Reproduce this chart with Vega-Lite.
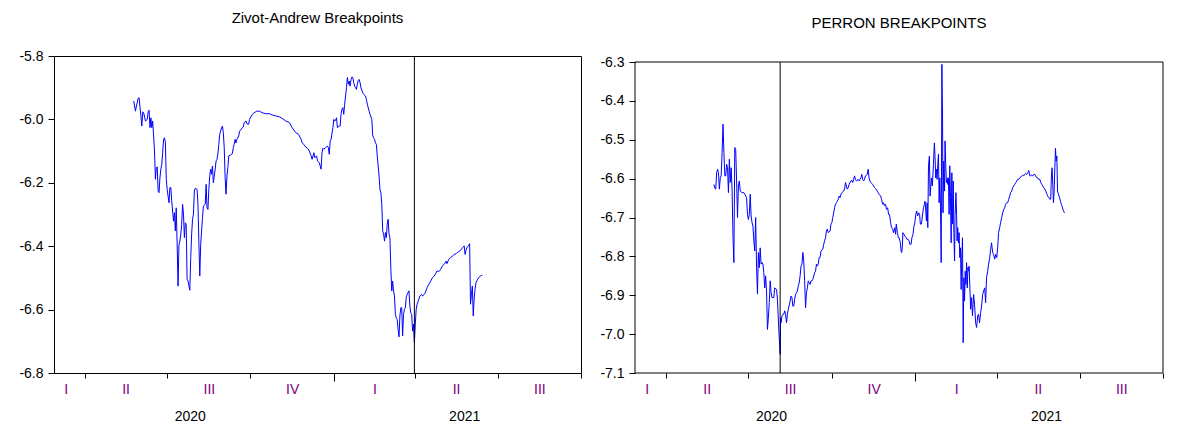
{
 "$schema": "https://vega.github.io/schema/vega-lite/v6.json",
 "background": "white",
 "padding": {"left": 18, "top": 10, "right": 5, "bottom": 5},
 "spacing": 17,
 "config": {
  "view": {"stroke": "black", "strokeWidth": 1},
  "font": "Liberation Sans",
  "title": {"font": "Liberation Sans", "fontSize": 15, "fontWeight": "normal", "color": "black", "anchor": "middle", "frame": "group"},
  "axis": {"labelFont": "Liberation Sans", "labelFontSize": 14, "labelColor": "black", "tickColor": "black", "domain": false, "grid": false, "title": null}
 },
 "hconcat": [
  {
   "width": 527, "height": 317,
   "title": {"text": "Zivot-Andrew Breakpoints", "offset": 23},
   "resolve": {"axis": {"x": "independent"}},
   "layer": [
    {
     "data": {"values": [
{"date":"2020-05-25","value":-5.942},{"date":"2020-05-27","value":-5.974},{"date":"2020-05-28","value":-5.958},{"date":"2020-05-30","value":-5.933},{"date":"2020-05-31","value":-5.932},{"date":"2020-06-01","value":-5.963},{"date":"2020-06-02","value":-5.989},{"date":"2020-06-03","value":-6.021},{"date":"2020-06-04","value":-5.976},{"date":"2020-06-05","value":-5.979},{"date":"2020-06-07","value":-6.005},{"date":"2020-06-09","value":-6.0},{"date":"2020-06-10","value":-5.976},{"date":"2020-06-11","value":-5.971},{"date":"2020-06-12","value":-6.026},{"date":"2020-06-13","value":-5.995},{"date":"2020-06-14","value":-6.026},{"date":"2020-06-15","value":-6.005},{"date":"2020-06-16","value":-6.052},{"date":"2020-06-17","value":-6.1},{"date":"2020-06-18","value":-6.189},{"date":"2020-06-19","value":-6.152},{"date":"2020-06-20","value":-6.15},{"date":"2020-06-21","value":-6.226},{"date":"2020-06-22","value":-6.231},{"date":"2020-06-23","value":-6.184},{"date":"2020-06-24","value":-6.157},{"date":"2020-06-25","value":-6.142},{"date":"2020-06-26","value":-6.105},{"date":"2020-06-27","value":-6.063},{"date":"2020-06-28","value":-6.058},{"date":"2020-06-29","value":-6.074},{"date":"2020-06-30","value":-6.189},{"date":"2020-07-01","value":-6.221},{"date":"2020-07-03","value":-6.263},{"date":"2020-07-04","value":-6.215},{"date":"2020-07-05","value":-6.215},{"date":"2020-07-06","value":-6.257},{"date":"2020-07-08","value":-6.321},{"date":"2020-07-09","value":-6.294},{"date":"2020-07-10","value":-6.352},{"date":"2020-07-11","value":-6.279},{"date":"2020-07-12","value":-6.394},{"date":"2020-07-13","value":-6.526},{"date":"2020-07-14","value":-6.394},{"date":"2020-07-15","value":-6.384},{"date":"2020-07-16","value":-6.362},{"date":"2020-07-17","value":-6.331},{"date":"2020-07-18","value":-6.268},{"date":"2020-07-19","value":-6.299},{"date":"2020-07-20","value":-6.373},{"date":"2020-07-21","value":-6.326},{"date":"2020-07-22","value":-6.331},{"date":"2020-07-23","value":-6.504},{"date":"2020-07-24","value":-6.51},{"date":"2020-07-26","value":-6.539},{"date":"2020-07-27","value":-6.436},{"date":"2020-07-28","value":-6.362},{"date":"2020-07-29","value":-6.315},{"date":"2020-07-30","value":-6.299},{"date":"2020-07-31","value":-6.226},{"date":"2020-08-01","value":-6.217},{"date":"2020-08-03","value":-6.221},{"date":"2020-08-04","value":-6.268},{"date":"2020-08-05","value":-6.389},{"date":"2020-08-06","value":-6.494},{"date":"2020-08-07","value":-6.394},{"date":"2020-08-08","value":-6.352},{"date":"2020-08-09","value":-6.31},{"date":"2020-08-10","value":-6.273},{"date":"2020-08-12","value":-6.268},{"date":"2020-08-13","value":-6.205},{"date":"2020-08-14","value":-6.279},{"date":"2020-08-15","value":-6.284},{"date":"2020-08-16","value":-6.221},{"date":"2020-08-17","value":-6.179},{"date":"2020-08-18","value":-6.157},{"date":"2020-08-19","value":-6.173},{"date":"2020-08-20","value":-6.147},{"date":"2020-08-21","value":-6.2},{"date":"2020-08-22","value":-6.179},{"date":"2020-08-23","value":-6.157},{"date":"2020-08-24","value":-6.131},{"date":"2020-08-25","value":-6.126},{"date":"2020-08-26","value":-6.108},{"date":"2020-08-27","value":-6.079},{"date":"2020-08-28","value":-6.047},{"date":"2020-08-29","value":-6.037},{"date":"2020-08-30","value":-6.026},{"date":"2020-08-31","value":-6.021},{"date":"2020-09-01","value":-6.042},{"date":"2020-09-02","value":-6.089},{"date":"2020-09-03","value":-6.184},{"date":"2020-09-04","value":-6.236},{"date":"2020-09-05","value":-6.179},{"date":"2020-09-06","value":-6.152},{"date":"2020-09-07","value":-6.115},{"date":"2020-09-09","value":-6.112},{"date":"2020-09-11","value":-6.108},{"date":"2020-09-12","value":-6.089},{"date":"2020-09-13","value":-6.079},{"date":"2020-09-14","value":-6.063},{"date":"2020-09-15","value":-6.074},{"date":"2020-09-16","value":-6.063},{"date":"2020-09-18","value":-6.052},{"date":"2020-09-19","value":-6.037},{"date":"2020-09-20","value":-6.034},{"date":"2020-09-22","value":-6.026},{"date":"2020-09-23","value":-6.024},{"date":"2020-09-24","value":-6.01},{"date":"2020-09-26","value":-6.005},{"date":"2020-09-27","value":-6.014},{"date":"2020-09-29","value":-6.015},{"date":"2020-09-30","value":-6.0},{"date":"2020-10-03","value":-5.984},{"date":"2020-10-05","value":-5.979},{"date":"2020-10-08","value":-5.974},{"date":"2020-10-11","value":-5.974},{"date":"2020-10-14","value":-5.979},{"date":"2020-10-18","value":-5.982},{"date":"2020-10-22","value":-5.982},{"date":"2020-10-25","value":-5.986},{"date":"2020-10-29","value":-5.989},{"date":"2020-11-02","value":-5.992},{"date":"2020-11-05","value":-5.997},{"date":"2020-11-09","value":-6.005},{"date":"2020-11-13","value":-6.01},{"date":"2020-11-16","value":-6.026},{"date":"2020-11-20","value":-6.042},{"date":"2020-11-23","value":-6.047},{"date":"2020-11-26","value":-6.063},{"date":"2020-11-27","value":-6.074},{"date":"2020-11-29","value":-6.079},{"date":"2020-12-01","value":-6.087},{"date":"2020-12-03","value":-6.091},{"date":"2020-12-05","value":-6.1},{"date":"2020-12-07","value":-6.115},{"date":"2020-12-08","value":-6.126},{"date":"2020-12-10","value":-6.105},{"date":"2020-12-11","value":-6.121},{"date":"2020-12-13","value":-6.115},{"date":"2020-12-14","value":-6.131},{"date":"2020-12-16","value":-6.137},{"date":"2020-12-17","value":-6.147},{"date":"2020-12-18","value":-6.157},{"date":"2020-12-19","value":-6.105},{"date":"2020-12-20","value":-6.091},{"date":"2020-12-21","value":-6.094},{"date":"2020-12-23","value":-6.089},{"date":"2020-12-25","value":-6.084},{"date":"2020-12-26","value":-6.089},{"date":"2020-12-27","value":-6.11},{"date":"2020-12-28","value":-6.068},{"date":"2020-12-29","value":-6.063},{"date":"2020-12-31","value":-6.026},{"date":"2021-01-01","value":-6.0},{"date":"2021-01-02","value":-6.005},{"date":"2021-01-03","value":-6.003},{"date":"2021-01-04","value":-5.995},{"date":"2021-01-05","value":-6.026},{"date":"2021-01-07","value":-6.021},{"date":"2021-01-08","value":-6.021},{"date":"2021-01-09","value":-5.984},{"date":"2021-01-10","value":-5.968},{"date":"2021-01-11","value":-5.963},{"date":"2021-01-12","value":-5.984},{"date":"2021-01-13","value":-5.952},{"date":"2021-01-14","value":-5.926},{"date":"2021-01-15","value":-5.9},{"date":"2021-01-16","value":-5.868},{"date":"2021-01-17","value":-5.889},{"date":"2021-01-18","value":-5.879},{"date":"2021-01-19","value":-5.895},{"date":"2021-01-20","value":-5.874},{"date":"2021-01-21","value":-5.866},{"date":"2021-01-22","value":-5.868},{"date":"2021-01-23","value":-5.884},{"date":"2021-01-24","value":-5.895},{"date":"2021-01-25","value":-5.9},{"date":"2021-01-26","value":-5.905},{"date":"2021-01-27","value":-5.889},{"date":"2021-01-28","value":-5.877},{"date":"2021-01-29","value":-5.874},{"date":"2021-01-30","value":-5.884},{"date":"2021-01-31","value":-5.9},{"date":"2021-02-02","value":-5.916},{"date":"2021-02-03","value":-5.921},{"date":"2021-02-05","value":-5.926},{"date":"2021-02-06","value":-5.937},{"date":"2021-02-07","value":-5.952},{"date":"2021-02-09","value":-5.974},{"date":"2021-02-10","value":-5.984},{"date":"2021-02-12","value":-6.0},{"date":"2021-02-13","value":-6.052},{"date":"2021-02-14","value":-6.058},{"date":"2021-02-15","value":-6.063},{"date":"2021-02-16","value":-6.074},{"date":"2021-02-17","value":-6.079},{"date":"2021-02-18","value":-6.115},{"date":"2021-02-19","value":-6.147},{"date":"2021-02-20","value":-6.179},{"date":"2021-02-21","value":-6.221},{"date":"2021-02-22","value":-6.231},{"date":"2021-02-23","value":-6.268},{"date":"2021-02-24","value":-6.352},{"date":"2021-02-25","value":-6.362},{"date":"2021-02-26","value":-6.384},{"date":"2021-02-27","value":-6.357},{"date":"2021-02-28","value":-6.373},{"date":"2021-03-01","value":-6.331},{"date":"2021-03-02","value":-6.315},{"date":"2021-03-03","value":-6.362},{"date":"2021-03-04","value":-6.373},{"date":"2021-03-05","value":-6.473},{"date":"2021-03-06","value":-6.541},{"date":"2021-03-07","value":-6.51},{"date":"2021-03-08","value":-6.541},{"date":"2021-03-09","value":-6.557},{"date":"2021-03-10","value":-6.615},{"date":"2021-03-11","value":-6.626},{"date":"2021-03-12","value":-6.631},{"date":"2021-03-13","value":-6.662},{"date":"2021-03-14","value":-6.686},{"date":"2021-03-15","value":-6.62},{"date":"2021-03-16","value":-6.594},{"date":"2021-03-17","value":-6.594},{"date":"2021-03-18","value":-6.683},{"date":"2021-03-19","value":-6.615},{"date":"2021-03-20","value":-6.599},{"date":"2021-03-21","value":-6.594},{"date":"2021-03-22","value":-6.562},{"date":"2021-03-23","value":-6.552},{"date":"2021-03-25","value":-6.541},{"date":"2021-03-26","value":-6.589},{"date":"2021-03-27","value":-6.61},{"date":"2021-03-28","value":-6.615},{"date":"2021-03-29","value":-6.668},{"date":"2021-03-30","value":-6.646},{"date":"2021-03-31","value":-6.704},{"date":"2021-04-01","value":-6.646},{"date":"2021-04-02","value":-6.599},{"date":"2021-04-03","value":-6.583},{"date":"2021-04-05","value":-6.567},{"date":"2021-04-06","value":-6.557},{"date":"2021-04-08","value":-6.552},{"date":"2021-04-09","value":-6.557},{"date":"2021-04-11","value":-6.552},{"date":"2021-04-12","value":-6.547},{"date":"2021-04-14","value":-6.531},{"date":"2021-04-16","value":-6.52},{"date":"2021-04-18","value":-6.51},{"date":"2021-04-20","value":-6.499},{"date":"2021-04-22","value":-6.494},{"date":"2021-04-24","value":-6.484},{"date":"2021-04-25","value":-6.478},{"date":"2021-04-27","value":-6.48},{"date":"2021-04-29","value":-6.473},{"date":"2021-05-01","value":-6.462},{"date":"2021-05-03","value":-6.457},{"date":"2021-05-05","value":-6.447},{"date":"2021-05-06","value":-6.455},{"date":"2021-05-08","value":-6.441},{"date":"2021-05-10","value":-6.436},{"date":"2021-05-12","value":-6.431},{"date":"2021-05-14","value":-6.426},{"date":"2021-05-16","value":-6.424},{"date":"2021-05-17","value":-6.421},{"date":"2021-05-19","value":-6.417},{"date":"2021-05-21","value":-6.413},{"date":"2021-05-23","value":-6.405},{"date":"2021-05-25","value":-6.399},{"date":"2021-05-26","value":-6.426},{"date":"2021-05-27","value":-6.413},{"date":"2021-05-28","value":-6.405},{"date":"2021-05-30","value":-6.397},{"date":"2021-05-31","value":-6.392},{"date":"2021-06-01","value":-6.583},{"date":"2021-06-02","value":-6.552},{"date":"2021-06-03","value":-6.526},{"date":"2021-06-04","value":-6.62},{"date":"2021-06-05","value":-6.567},{"date":"2021-06-06","value":-6.536},{"date":"2021-06-07","value":-6.515},{"date":"2021-06-09","value":-6.504},{"date":"2021-06-10","value":-6.499},{"date":"2021-06-12","value":-6.494},{"date":"2021-06-14","value":-6.491}
     ]},
     "mark": {"type": "line", "color": "#0000FF", "strokeWidth": 1},
     "encoding": {
      "x": {"field": "date", "type": "temporal",
       "scale": {"type": "utc", "domain": [{"year": 2020, "month": 2, "date": 27, "utc": true}, {"year": 2021, "month": 10, "date": 1, "utc": true}]},
       "axis": {
        "orient": "bottom",
        "values": [
         {"year": 2020, "month": 4, "date": 1, "utc": true}, {"year": 2020, "month": 7, "date": 1, "utc": true}, {"year": 2020, "month": 10, "date": 1, "utc": true},
         {"year": 2021, "month": 1, "date": 1, "utc": true}, {"year": 2021, "month": 4, "date": 1, "utc": true}, {"year": 2021, "month": 7, "date": 1, "utc": true}, {"year": 2021, "month": 10, "date": 1, "utc": true},
         {"year": 2020, "month": 3, "date": 11, "utc": true}, {"year": 2020, "month": 5, "date": 16, "utc": true}, {"year": 2020, "month": 8, "date": 16, "utc": true}, {"year": 2020, "month": 11, "date": 16, "utc": true},
         {"year": 2021, "month": 2, "date": 15, "utc": true}, {"year": 2021, "month": 5, "date": 16, "utc": true}, {"year": 2021, "month": 8, "date": 16, "utc": true}
        ],
        "labelExpr": "utcdate(datum.value) == 1 ? '' : ['I','II','III','IV'][floor(utcmonth(datum.value)/3)]",
        "tickSize": 5,
        "tickOpacity": {"condition": {"test": "utcdate(datum.value) != 1", "value": 0}, "value": 1},
        "labelColor": "#800080",
        "labelPadding": 4,
        "labelOverlap": false, "labelFlush": false, "labelBound": false
       }},
      "y": {"field": "value", "type": "quantitative",
       "scale": {"domain": [-6.8, -5.8], "zero": false, "nice": false},
       "axis": {"values": [-5.8, -6.0, -6.2, -6.4, -6.6, -6.8], "labelExpr": "'-' + format(abs(datum.value), '.1f')", "tickSize": 6, "labelPadding": 5}}
     }
    },
    {
     "data": {"values": [{"date": "2021-03-31"}]},
     "mark": {"type": "rule", "color": "black", "strokeWidth": 1},
     "encoding": {"x": {"field": "date", "type": "temporal",
      "axis": {
       "orient": "bottom",
       "values": [{"year": 2021, "month": 1, "date": 1, "utc": true}, {"year": 2020, "month": 7, "date": 26, "utc": true}, {"year": 2021, "month": 5, "date": 25, "utc": true}],
       "labelExpr": "utcdate(datum.value) == 1 ? '' : utcyear(datum.value) + ''",
       "tickSize": 8,
       "tickOpacity": {"condition": {"test": "utcdate(datum.value) != 1", "value": 0}, "value": 1},
       "labelPadding": 28,
       "labelOverlap": false, "labelFlush": false, "labelBound": false
      }}}
    }
   ]
  },
  {
   "width": 528, "height": 317,
   "view": {"stroke": null},
   "title": {"text": "PERRON BREAKPOINTS", "offset": 24},
   "resolve": {"axis": {"x": "independent", "y": "independent"}},
   "layer": [
    {
     "data": {"values": [{"start": "2020-02-27", "end": "2021-10-01", "low": -7.1, "high": -6.3}]},
     "mark": {"type": "rect", "filled": false, "color": "black", "strokeWidth": 1},
     "encoding": {
      "x": {"field": "start", "type": "temporal", "axis": null},
      "x2": {"field": "end"},
      "y": {"field": "low", "type": "quantitative", "axis": null},
      "y2": {"field": "high"}
     }
    },
    {
     "data": {"values": [
{"date":"2020-05-24","value":-6.615},{"date":"2020-05-25","value":-6.625},{"date":"2020-05-26","value":-6.627},{"date":"2020-05-27","value":-6.585},{"date":"2020-05-28","value":-6.576},{"date":"2020-05-29","value":-6.585},{"date":"2020-05-30","value":-6.627},{"date":"2020-05-31","value":-6.598},{"date":"2020-06-01","value":-6.593},{"date":"2020-06-02","value":-6.533},{"date":"2020-06-03","value":-6.46},{"date":"2020-06-04","value":-6.533},{"date":"2020-06-05","value":-6.593},{"date":"2020-06-06","value":-6.593},{"date":"2020-06-07","value":-6.563},{"date":"2020-06-08","value":-6.572},{"date":"2020-06-09","value":-6.636},{"date":"2020-06-10","value":-6.55},{"date":"2020-06-11","value":-6.61},{"date":"2020-06-12","value":-6.572},{"date":"2020-06-13","value":-6.627},{"date":"2020-06-14","value":-6.748},{"date":"2020-06-15","value":-6.816},{"date":"2020-06-16","value":-6.52},{"date":"2020-06-17","value":-6.525},{"date":"2020-06-18","value":-6.606},{"date":"2020-06-19","value":-6.7},{"date":"2020-06-20","value":-6.619},{"date":"2020-06-21","value":-6.606},{"date":"2020-06-22","value":-6.632},{"date":"2020-06-24","value":-6.636},{"date":"2020-06-26","value":-6.636},{"date":"2020-06-27","value":-6.64},{"date":"2020-06-29","value":-6.649},{"date":"2020-06-30","value":-6.692},{"date":"2020-07-01","value":-6.705},{"date":"2020-07-02","value":-6.692},{"date":"2020-07-03","value":-6.64},{"date":"2020-07-04","value":-6.696},{"date":"2020-07-05","value":-6.713},{"date":"2020-07-06","value":-6.722},{"date":"2020-07-07","value":-6.76},{"date":"2020-07-08","value":-6.786},{"date":"2020-07-09","value":-6.7},{"date":"2020-07-10","value":-6.829},{"date":"2020-07-11","value":-6.897},{"date":"2020-07-12","value":-6.79},{"date":"2020-07-13","value":-6.829},{"date":"2020-07-14","value":-6.778},{"date":"2020-07-15","value":-6.82},{"date":"2020-07-16","value":-6.816},{"date":"2020-07-17","value":-6.82},{"date":"2020-07-18","value":-6.842},{"date":"2020-07-19","value":-6.881},{"date":"2020-07-20","value":-6.85},{"date":"2020-07-21","value":-6.889},{"date":"2020-07-22","value":-6.988},{"date":"2020-07-23","value":-6.958},{"date":"2020-07-24","value":-6.919},{"date":"2020-07-25","value":-6.863},{"date":"2020-07-26","value":-6.893},{"date":"2020-07-27","value":-6.906},{"date":"2020-07-29","value":-6.906},{"date":"2020-07-30","value":-6.881},{"date":"2020-08-01","value":-6.885},{"date":"2020-08-02","value":-6.91},{"date":"2020-08-03T12:00Z","value":-6.988},{"date":"2020-08-05","value":-7.052},{"date":"2020-08-05T12:00Z","value":-6.958},{"date":"2020-08-06","value":-6.971},{"date":"2020-08-07","value":-6.953},{"date":"2020-08-08","value":-6.949},{"date":"2020-08-09","value":-6.949},{"date":"2020-08-10","value":-6.94},{"date":"2020-08-11","value":-6.949},{"date":"2020-08-12","value":-6.971},{"date":"2020-08-13","value":-6.949},{"date":"2020-08-14","value":-6.936},{"date":"2020-08-16","value":-6.915},{"date":"2020-08-17","value":-6.902},{"date":"2020-08-18","value":-6.906},{"date":"2020-08-19","value":-6.928},{"date":"2020-08-20","value":-6.928},{"date":"2020-08-21","value":-6.91},{"date":"2020-08-22","value":-6.898},{"date":"2020-08-24","value":-6.889},{"date":"2020-08-25","value":-6.876},{"date":"2020-08-26","value":-6.868},{"date":"2020-08-27","value":-6.85},{"date":"2020-08-28","value":-6.825},{"date":"2020-08-29","value":-6.82},{"date":"2020-08-30","value":-6.79},{"date":"2020-08-31","value":-6.812},{"date":"2020-09-01","value":-6.863},{"date":"2020-09-02","value":-6.932},{"date":"2020-09-03","value":-6.893},{"date":"2020-09-04","value":-6.881},{"date":"2020-09-05","value":-6.863},{"date":"2020-09-06","value":-6.868},{"date":"2020-09-07","value":-6.872},{"date":"2020-09-08","value":-6.863},{"date":"2020-09-09","value":-6.863},{"date":"2020-09-10","value":-6.859},{"date":"2020-09-12","value":-6.842},{"date":"2020-09-13","value":-6.838},{"date":"2020-09-14","value":-6.82},{"date":"2020-09-15","value":-6.825},{"date":"2020-09-16","value":-6.82},{"date":"2020-09-17","value":-6.803},{"date":"2020-09-18","value":-6.803},{"date":"2020-09-19","value":-6.786},{"date":"2020-09-21","value":-6.782},{"date":"2020-09-22","value":-6.769},{"date":"2020-09-23","value":-6.76},{"date":"2020-09-24","value":-6.752},{"date":"2020-09-25","value":-6.735},{"date":"2020-09-26","value":-6.73},{"date":"2020-09-27","value":-6.739},{"date":"2020-09-29","value":-6.735},{"date":"2020-09-30","value":-6.717},{"date":"2020-10-01","value":-6.713},{"date":"2020-10-02","value":-6.7},{"date":"2020-10-03","value":-6.688},{"date":"2020-10-04","value":-6.675},{"date":"2020-10-05","value":-6.666},{"date":"2020-10-06","value":-6.662},{"date":"2020-10-07","value":-6.658},{"date":"2020-10-08","value":-6.653},{"date":"2020-10-09","value":-6.645},{"date":"2020-10-10","value":-6.649},{"date":"2020-10-11","value":-6.64},{"date":"2020-10-12","value":-6.636},{"date":"2020-10-14","value":-6.632},{"date":"2020-10-15","value":-6.627},{"date":"2020-10-16","value":-6.61},{"date":"2020-10-17","value":-6.619},{"date":"2020-10-18","value":-6.627},{"date":"2020-10-19","value":-6.623},{"date":"2020-10-20","value":-6.615},{"date":"2020-10-22","value":-6.606},{"date":"2020-10-23","value":-6.604},{"date":"2020-10-24","value":-6.61},{"date":"2020-10-25","value":-6.602},{"date":"2020-10-26","value":-6.593},{"date":"2020-10-27","value":-6.602},{"date":"2020-10-28","value":-6.606},{"date":"2020-10-30","value":-6.602},{"date":"2020-10-31","value":-6.606},{"date":"2020-11-01","value":-6.602},{"date":"2020-11-02","value":-6.598},{"date":"2020-11-03","value":-6.589},{"date":"2020-11-04","value":-6.602},{"date":"2020-11-05","value":-6.606},{"date":"2020-11-06","value":-6.602},{"date":"2020-11-07","value":-6.593},{"date":"2020-11-09","value":-6.589},{"date":"2020-11-10","value":-6.576},{"date":"2020-11-11","value":-6.598},{"date":"2020-11-12","value":-6.606},{"date":"2020-11-13","value":-6.61},{"date":"2020-11-14","value":-6.613},{"date":"2020-11-15","value":-6.615},{"date":"2020-11-16","value":-6.619},{"date":"2020-11-17","value":-6.623},{"date":"2020-11-18","value":-6.625},{"date":"2020-11-20","value":-6.632},{"date":"2020-11-21","value":-6.636},{"date":"2020-11-22","value":-6.64},
{"date":"2020-11-23T18:00Z","value":-6.645},{"date":"2020-11-24T18:00Z","value":-6.653},{"date":"2020-11-26","value":-6.666},{"date":"2020-11-27","value":-6.662},{"date":"2020-11-28","value":-6.67},{"date":"2020-11-29T06:00Z","value":-6.666},{"date":"2020-11-30T06:00Z","value":-6.679},{"date":"2020-12-01T12:00Z","value":-6.675},{"date":"2020-12-02T12:00Z","value":-6.692},{"date":"2020-12-03T12:00Z","value":-6.692},{"date":"2020-12-04T18:00Z","value":-6.713},{"date":"2020-12-05T18:00Z","value":-6.726},{"date":"2020-12-07","value":-6.73},{"date":"2020-12-08","value":-6.739},{"date":"2020-12-09T06:00Z","value":-6.726},{"date":"2020-12-10T06:00Z","value":-6.743},{"date":"2020-12-11","value":-6.717},{"date":"2020-12-12T06:00Z","value":-6.739},{"date":"2020-12-13T06:00Z","value":-6.752},{"date":"2020-12-14T06:00Z","value":-6.752},{"date":"2020-12-15T12:00Z","value":-6.765},{"date":"2020-12-16T06:00Z","value":-6.786},{"date":"2020-12-17","value":-6.79},{"date":"2020-12-17T18:00Z","value":-6.773},{"date":"2020-12-18T06:00Z","value":-6.739},{"date":"2020-12-19T12:00Z","value":-6.743},{"date":"2020-12-20T12:00Z","value":-6.748},{"date":"2020-12-21T18:00Z","value":-6.752},{"date":"2020-12-22T18:00Z","value":-6.756},{"date":"2020-12-24","value":-6.756},{"date":"2020-12-25","value":-6.76},{"date":"2020-12-26","value":-6.769},{"date":"2020-12-27T06:00Z","value":-6.769},{"date":"2020-12-28T06:00Z","value":-6.752},{"date":"2020-12-29T12:00Z","value":-6.743},{"date":"2020-12-30T12:00Z","value":-6.722},{"date":"2020-12-31T12:00Z","value":-6.713},{"date":"2021-01-01T12:00Z","value":-6.692},{"date":"2021-01-02T12:00Z","value":-6.683},{"date":"2021-01-03T12:00Z","value":-6.696},{"date":"2021-01-04T18:00Z","value":-6.688},{"date":"2021-01-05T18:00Z","value":-6.692},{"date":"2021-01-06T12:00Z","value":-6.717},{"date":"2021-01-07T18:00Z","value":-6.717},{"date":"2021-01-08T18:00Z","value":-6.696},{"date":"2021-01-10","value":-6.675},{"date":"2021-01-11","value":-6.666},{"date":"2021-01-11T18:00Z","value":-6.658},{"date":"2021-01-12T12:00Z","value":-6.683},{"date":"2021-01-13T06:00Z","value":-6.709},{"date":"2021-01-14","value":-6.662},{"date":"2021-01-14T18:00Z","value":-6.726},{"date":"2021-01-15T12:00Z","value":-6.567},{"date":"2021-01-16T12:00Z","value":-6.542},{"date":"2021-01-17T06:00Z","value":-6.645},{"date":"2021-01-18","value":-6.619},{"date":"2021-01-18T18:00Z","value":-6.598},{"date":"2021-01-19T18:00Z","value":-6.619},{"date":"2021-01-21","value":-6.563},{"date":"2021-01-22","value":-6.508},{"date":"2021-01-22T18:00Z","value":-6.546},{"date":"2021-01-23T12:00Z","value":-6.598},{"date":"2021-01-24T06:00Z","value":-6.576},{"date":"2021-01-25","value":-6.602},{"date":"2021-01-25T18:00Z","value":-6.563},{"date":"2021-01-26T12:00Z","value":-6.537},{"date":"2021-01-27T06:00Z","value":-6.662},{"date":"2021-01-28","value":-6.598},{"date":"2021-01-28T18:00Z","value":-6.675},{"date":"2021-01-29T12:00Z","value":-6.816},{"date":"2021-01-30T06:00Z","value":-6.306},{"date":"2021-01-31","value":-6.439},{"date":"2021-01-31T12:00Z","value":-6.688},{"date":"2021-02-01T06:00Z","value":-6.555},{"date":"2021-02-02T06:00Z","value":-6.632},{"date":"2021-02-02T18:00Z","value":-6.503},{"date":"2021-02-03T12:00Z","value":-6.563},{"date":"2021-02-04T06:00Z","value":-6.61},{"date":"2021-02-05","value":-6.598},{"date":"2021-02-05T18:00Z","value":-6.615},{"date":"2021-02-06T12:00Z","value":-6.598},{"date":"2021-02-07T06:00Z","value":-6.692},{"date":"2021-02-08","value":-6.567},{"date":"2021-02-08T18:00Z","value":-6.649},{"date":"2021-02-09T12:00Z","value":-6.765},{"date":"2021-02-10T06:00Z","value":-6.585},{"date":"2021-02-11","value":-6.717},{"date":"2021-02-11T18:00Z","value":-6.606},{"date":"2021-02-12T12:00Z","value":-6.739},{"date":"2021-02-13T06:00Z","value":-6.812},{"date":"2021-02-13T18:00Z","value":-6.7},{"date":"2021-02-14T18:00Z","value":-6.636},{"date":"2021-02-15T12:00Z","value":-6.692},{"date":"2021-02-16","value":-6.76},{"date":"2021-02-16T18:00Z","value":-6.726},{"date":"2021-02-17T12:00Z","value":-6.765},{"date":"2021-02-18T06:00Z","value":-6.739},{"date":"2021-02-19","value":-6.803},{"date":"2021-02-19T18:00Z","value":-6.778},{"date":"2021-02-20T12:00Z","value":-6.885},{"date":"2021-02-21T06:00Z","value":-6.799},{"date":"2021-02-22","value":-6.752},{"date":"2021-02-22T18:00Z","value":-7.022},{"date":"2021-02-23T12:00Z","value":-6.855},{"date":"2021-02-24T06:00Z","value":-6.915},{"date":"2021-02-25","value":-6.838},{"date":"2021-02-25T18:00Z","value":-6.872},{"date":"2021-02-26T12:00Z","value":-6.816},{"date":"2021-02-27T06:00Z","value":-6.881},{"date":"2021-02-28","value":-6.829},{"date":"2021-02-28T18:00Z","value":-6.838},{"date":"2021-03-01T06:00Z","value":-6.825},{"date":"2021-03-02","value":-6.872},{"date":"2021-03-03","value":-6.936},{"date":"2021-03-04","value":-6.906},{"date":"2021-03-05","value":-6.953},{"date":"2021-03-06T06:00Z","value":-6.898},{"date":"2021-03-07T06:00Z","value":-6.923},{"date":"2021-03-08T12:00Z","value":-6.971},{"date":"2021-03-09T12:00Z","value":-6.983},{"date":"2021-03-10T18:00Z","value":-6.953},{"date":"2021-03-11T18:00Z","value":-6.949},{"date":"2021-03-12T18:00Z","value":-6.971},{"date":"2021-03-14","value":-6.945},{"date":"2021-03-15","value":-6.928},{"date":"2021-03-16T06:00Z","value":-6.898},{"date":"2021-03-17T06:00Z","value":-6.889},{"date":"2021-03-18T12:00Z","value":-6.881},{"date":"2021-03-19T12:00Z","value":-6.919},{"date":"2021-03-20T12:00Z","value":-6.855},{"date":"2021-03-21T18:00Z","value":-6.838},{"date":"2021-03-22T18:00Z","value":-6.82},{"date":"2021-03-24","value":-6.803},{"date":"2021-03-25","value":-6.782},{"date":"2021-03-26","value":-6.765},{"date":"2021-03-27T06:00Z","value":-6.79},{"date":"2021-03-28T06:00Z","value":-6.795},{"date":"2021-03-29T12:00Z","value":-6.807},{"date":"2021-03-30T12:00Z","value":-6.795},{"date":"2021-03-31T18:00Z","value":-6.803},{"date":"2021-04-01T18:00Z","value":-6.778},{"date":"2021-04-02T18:00Z","value":-6.739},{"date":"2021-04-04","value":-6.726},{"date":"2021-04-05","value":-6.713},{"date":"2021-04-06T06:00Z","value":-6.7},{"date":"2021-04-07T06:00Z","value":-6.688},{"date":"2021-04-08T12:00Z","value":-6.679},{"date":"2021-04-09T12:00Z","value":-6.675},{"date":"2021-04-10T12:00Z","value":-6.666},{"date":"2021-04-11T18:00Z","value":-6.662},{"date":"2021-04-12T18:00Z","value":-6.662},{"date":"2021-04-14","value":-6.653},{"date":"2021-04-15","value":-6.645},{"date":"2021-04-16","value":-6.636},{"date":"2021-04-17T06:00Z","value":-6.632},{"date":"2021-04-18T06:00Z","value":-6.623},{"date":"2021-04-19T12:00Z","value":-6.619},{"date":"2021-04-20T12:00Z","value":-6.615},{"date":"2021-04-21T18:00Z","value":-6.61},{"date":"2021-04-22T18:00Z","value":-6.606},{"date":"2021-04-23T18:00Z","value":-6.602},{"date":"2021-04-25","value":-6.602},{"date":"2021-04-26","value":-6.598},{"date":"2021-04-27T06:00Z","value":-6.596},{"date":"2021-04-28T06:00Z","value":-6.593},{"date":"2021-04-29T12:00Z","value":-6.591},{"date":"2021-04-30T12:00Z","value":-6.593},{"date":"2021-05-01T12:00Z","value":-6.589},{"date":"2021-05-02T18:00Z","value":-6.587},{"date":"2021-05-03T18:00Z","value":-6.589},{"date":"2021-05-05","value":-6.585},{"date":"2021-05-06","value":-6.579},{"date":"2021-05-07T06:00Z","value":-6.593},{"date":"2021-05-08T06:00Z","value":-6.593},{"date":"2021-05-09T06:00Z","value":-6.591},{"date":"2021-05-10T12:00Z","value":-6.593},{"date":"2021-05-11T12:00Z","value":-6.589},{"date":"2021-05-12T18:00Z","value":-6.589},{"date":"2021-05-13T18:00Z","value":-6.593},{"date":"2021-05-15","value":-6.598},{"date":"2021-05-16","value":-6.598},{"date":"2021-05-17","value":-6.602},{"date":"2021-05-18T06:00Z","value":-6.602},{"date":"2021-05-19T06:00Z","value":-6.61},{"date":"2021-05-20T12:00Z","value":-6.615},{"date":"2021-05-21T12:00Z","value":-6.619},{"date":"2021-05-22T12:00Z","value":-6.623},{"date":"2021-05-23T18:00Z","value":-6.627},{"date":"2021-05-24T18:00Z","value":-6.632},{"date":"2021-05-26","value":-6.64},{"date":"2021-05-27","value":-6.645},{"date":"2021-05-28T06:00Z","value":-6.649},{"date":"2021-05-29T06:00Z","value":-6.653},{"date":"2021-05-30T06:00Z","value":-6.653},{"date":"2021-05-31","value":-6.593},{"date":"2021-05-31T18:00Z","value":-6.572},{"date":"2021-06-01T12:00Z","value":-6.615},{"date":"2021-06-02T06:00Z","value":-6.662},{"date":"2021-06-03","value":-6.632},{"date":"2021-06-03T18:00Z","value":-6.572},{"date":"2021-06-04T12:00Z","value":-6.522},{"date":"2021-06-05T06:00Z","value":-6.555},{"date":"2021-06-06","value":-6.542},{"date":"2021-06-06T18:00Z","value":-6.632},{"date":"2021-06-07T18:00Z","value":-6.64},{"date":"2021-06-09","value":-6.649},{"date":"2021-06-10","value":-6.658},{"date":"2021-06-11","value":-6.666},{"date":"2021-06-12T06:00Z","value":-6.675},{"date":"2021-06-13T06:00Z","value":-6.683},{"date":"2021-06-14T12:00Z","value":-6.688}
     ]},
     "mark": {"type": "line", "color": "#0000FF", "strokeWidth": 1},
     "encoding": {
      "x": {"field": "date", "type": "temporal",
       "scale": {"type": "utc", "domain": [{"year": 2020, "month": 2, "date": 27, "utc": true}, {"year": 2021, "month": 10, "date": 1, "utc": true}]},
       "axis": {
        "orient": "bottom",
        "values": [
         {"year": 2020, "month": 4, "date": 1, "utc": true}, {"year": 2020, "month": 7, "date": 1, "utc": true}, {"year": 2020, "month": 10, "date": 1, "utc": true},
         {"year": 2021, "month": 1, "date": 1, "utc": true}, {"year": 2021, "month": 4, "date": 1, "utc": true}, {"year": 2021, "month": 7, "date": 1, "utc": true}, {"year": 2021, "month": 10, "date": 1, "utc": true},
         {"year": 2020, "month": 3, "date": 11, "utc": true}, {"year": 2020, "month": 5, "date": 16, "utc": true}, {"year": 2020, "month": 8, "date": 16, "utc": true}, {"year": 2020, "month": 11, "date": 16, "utc": true},
         {"year": 2021, "month": 2, "date": 15, "utc": true}, {"year": 2021, "month": 5, "date": 16, "utc": true}, {"year": 2021, "month": 8, "date": 16, "utc": true}
        ],
        "labelExpr": "utcdate(datum.value) == 1 ? '' : ['I','II','III','IV'][floor(utcmonth(datum.value)/3)]",
        "tickSize": 5,
        "tickOpacity": {"condition": {"test": "utcdate(datum.value) != 1", "value": 0}, "value": 1},
        "labelColor": "#800080",
        "labelPadding": 4,
        "labelOverlap": false, "labelFlush": false, "labelBound": false
       }},
      "y": {"field": "value", "type": "quantitative",
       "scale": {"domain": [-7.1, -6.3], "zero": false, "nice": false, "range": [317, 6]},
       "axis": {"orient": "left", "values": [-6.3, -6.4, -6.5, -6.6, -6.7, -6.8, -6.9, -7.0, -7.1], "labelExpr": "'-' + format(abs(datum.value), '.1f')", "tickSize": 6, "labelPadding": 5}}
     }
    },
    {
     "data": {"values": [{"date": "2020-08-05", "top": -6.3, "bottom": -7.1}]},
     "mark": {"type": "rule", "color": "black", "strokeWidth": 1},
     "encoding": {
      "x": {"field": "date", "type": "temporal",
       "axis": {
        "orient": "bottom",
        "values": [{"year": 2021, "month": 1, "date": 1, "utc": true}, {"year": 2020, "month": 7, "date": 26, "utc": true}, {"year": 2021, "month": 5, "date": 25, "utc": true}],
        "labelExpr": "utcdate(datum.value) == 1 ? '' : utcyear(datum.value) + ''",
        "tickSize": 8,
        "tickOpacity": {"condition": {"test": "utcdate(datum.value) != 1", "value": 0}, "value": 1},
        "labelPadding": 28,
        "labelOverlap": false, "labelFlush": false, "labelBound": false
       }},
      "y": {"field": "top", "type": "quantitative", "axis": null},
      "y2": {"field": "bottom"}
     }
    }
   ]
  }
 ]
}
